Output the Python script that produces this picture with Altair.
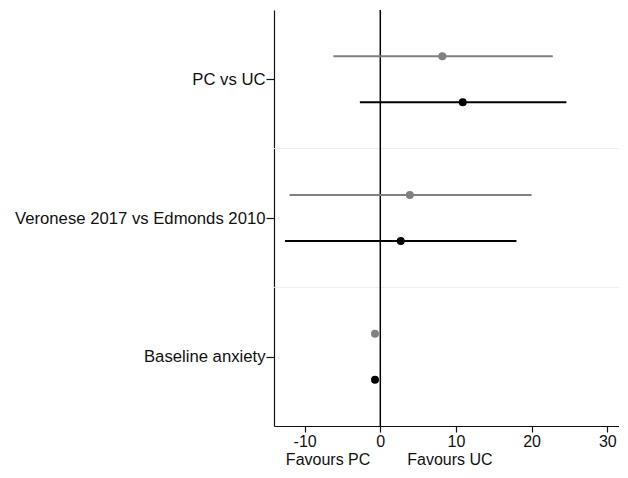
import altair as alt
import pandas as pd

categories = ["PC vs UC", "Veronese 2017 vs Edmonds 2010", "Baseline anxiety"]
series = ["gray", "black"]
# estimates per category, per series
est_gray = [8.2, 3.9, -0.7]
lo_gray = [-6.2, -12.0, -0.9]
hi_gray = [22.8, 20.0, -0.5]
est_black = [10.9, 2.7, -0.7]
lo_black = [-2.7, -12.6, -0.9]
hi_black = [24.6, 18.0, -0.5]
x_ticks = [-10, 0, 10, 20, 30]
favour_labels = ["Favours PC", "Favours UC"]
favour_x = [-6.9, 9.2]

OFFSET = 0.166
rows = []
for i, c in enumerate(categories):
    rows.append(dict(cat=c, s="gray", y=i + 0.5 - OFFSET, est=est_gray[i], lo=lo_gray[i], hi=hi_gray[i]))
    rows.append(dict(cat=c, s="black", y=i + 0.5 + OFFSET, est=est_black[i], lo=lo_black[i], hi=hi_black[i]))
df = pd.DataFrame(rows)

W, H = 345, 416
FONT = "Liberation Sans"
FS = 16.7
FSX = 16

label_expr = " : ".join(
    f"datum.value < {i + 1} ? '{c}'" for i, c in enumerate(categories[:-1])
) + f" : '{categories[-1]}'"

xscale = alt.Scale(domain=[-14.05, 31.55], nice=False, zero=False)
yscale = alt.Scale(domain=[0, 3], reverse=True, nice=False, zero=False)
color = alt.Color("s:N", scale=alt.Scale(domain=series, range=["#808080", "#000000"]), legend=None)

xaxis = alt.Axis(values=x_ticks, title=None, grid=False, tickSize=6, labelPadding=1,
                 labelExpr="replace(datum.label, '\u2212', '-')",
                 labelFontSize=FSX, labelFont=FONT, labelColor="#111", domainColor="#111",
                 tickColor="#111", domainWidth=1.2, tickWidth=1.2)
yaxis = alt.Axis(values=[0.5, 1.5, 2.5], labelExpr=label_expr, title=None, grid=False,
                 tickSize=8, labelPadding=1, labelFontSize=FS, labelFont=FONT, labelColor="#111",
                 labelLimit=400,
                 domainColor="#111", tickColor="#111", domainWidth=1.2, tickWidth=1.2)

sep = pd.DataFrame({"y": [1, 2]})
grid = alt.Chart(sep).mark_rule(color="#ececec", strokeWidth=1).encode(
    y=alt.Y("y:Q", scale=yscale, axis=yaxis)
)

zero = alt.Chart(pd.DataFrame({"x": [0]})).mark_rule(color="#000", strokeWidth=1.5).encode(
    x=alt.X("x:Q", scale=xscale, axis=xaxis)
)

ci = alt.Chart(df).mark_rule(strokeWidth=2).encode(
    x=alt.X("lo:Q", scale=xscale, axis=xaxis),
    x2="hi:Q",
    y=alt.Y("y:Q", scale=yscale, axis=yaxis),
    color=color,
)

pts = alt.Chart(df).mark_circle(size=64, opacity=1).encode(
    x=alt.X("est:Q", scale=xscale, axis=xaxis),
    y=alt.Y("y:Q", scale=yscale, axis=yaxis),
    color=color,
)

fav = alt.Chart(pd.DataFrame({"t": favour_labels, "x": favour_x})).mark_text(
    font=FONT, fontSize=FSX, color="#111", baseline="alphabetic", align="center"
).encode(
    x=alt.X("x:Q", scale=xscale, axis=xaxis),
    y=alt.value(H + 39),
    text="t:N",
)

chart = alt.layer(grid, zero, ci, pts, fav).properties(
    width=W, height=H,
    background="white",
    autosize=alt.AutoSizeParams(type="none"),
    padding={"left": 266, "top": 2, "right": 0, "bottom": 44},
).configure_view(stroke=None, strokeWidth=0)

chart.save("out.html", embed_options={"renderer": "svg", "actions": False})
